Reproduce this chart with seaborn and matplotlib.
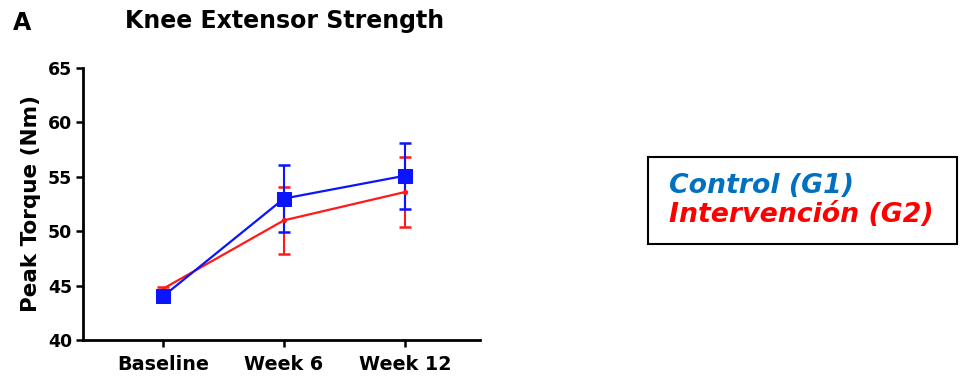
import matplotlib
matplotlib.use("Agg")
import matplotlib.pyplot as plt
from matplotlib.patches import Rectangle
import seaborn as sns
import pandas as pd

timepoints = ["Baseline", "Week 6", "Week 12"]
control_mean = [44.0, 53.0, 55.1]
control_err = [0.3, 3.05, 3.05]
interv_mean = [44.7, 51.0, 53.6]
interv_err = [0.2, 3.1, 3.2]
yticks = [40, 45, 50, 55, 60, 65]

sns.set_style("ticks")
plt.rcParams["font.family"] = ["DejaVu Sans"]
plt.rcParams["text.color"] = "black"
plt.rcParams["xtick.color"] = "black"
plt.rcParams["ytick.color"] = "black"
plt.rcParams["axes.labelcolor"] = "black"

fig = plt.figure(figsize=(9.63, 3.79), dpi=100)
ax = fig.add_axes([83 / 963, 1 - 340 / 379, 397 / 963, 272 / 379])

df = pd.DataFrame({
    "x": list(range(len(timepoints))) * 2,
    "y": interv_mean + control_mean,
    "err": interv_err + control_err,
    "group": ["Intervención (G2)"] * 3 + ["Control (G1)"] * 3,
})

palette = {"Intervención (G2)": "#ff1a1a", "Control (G1)": "#0a14ff"}
markers = {"Intervención (G2)": "o", "Control (G1)": "s"}
sizes = {"Intervención (G2)": 3, "Control (G1)": 10}

for g in ["Intervención (G2)", "Control (G1)"]:
    sub = df[df.group == g]
    ax.errorbar(sub.x, sub.y, yerr=sub.err, fmt="none", ecolor=palette[g],
                elinewidth=1.5, capsize=4, capthick=1.8, zorder=2)
    sns.lineplot(data=sub, x="x", y="y", color=palette[g], marker=markers[g],
                 markersize=sizes[g], markeredgecolor=palette[g], linewidth=1.6,
                 ax=ax, legend=False, zorder=3)

ax.set_xlim(-0.66, 2.62)
ax.set_ylim(40, 65)
ax.set_yticks(yticks)
ax.set_yticklabels([str(t) for t in yticks], fontsize=12.5, fontweight="bold")
ax.set_xticks(range(len(timepoints)))
ax.set_xticklabels(timepoints, fontsize=13.8, fontweight="bold")
ax.set_xlabel("")
ax.set_ylabel("Peak Torque (Nm)", fontsize=15.5, fontweight="bold", labelpad=5)
for s in ["top", "right"]:
    ax.spines[s].set_visible(False)
for s in ["left", "bottom"]:
    ax.spines[s].set_color("black")
    ax.spines[s].set_linewidth(2)
ax.tick_params(axis="both", direction="out", length=5, width=1.8, color="black")
ax.tick_params(axis="y", pad=3)
ax.tick_params(axis="x", pad=6)

fig.text(285 / 963, 1 - 21 / 379, "Knee Extensor Strength", ha="center", va="center",
         fontsize=17, fontweight="bold")
fig.text(13 / 963, 1 - 23 / 379, "A", ha="left", va="center", fontsize=17, fontweight="bold")

# legend box
fig.patches.append(Rectangle((648 / 963, 1 - 244 / 379), 309 / 963, 87 / 379,
                             transform=fig.transFigure, fill=False,
                             edgecolor="black", linewidth=1.5))
fig.text(669 / 963, 1 - 186 / 379, "Control (G1)", color="#0070c0", fontsize=19.3,
         fontweight="bold", fontstyle="italic", va="center")
fig.text(669 / 963, 1 - 215 / 379, "Intervención (G2)", color="#ff0000", fontsize=19.3,
         fontweight="bold", fontstyle="italic", va="center")

fig.savefig("out.png", dpi=100)
